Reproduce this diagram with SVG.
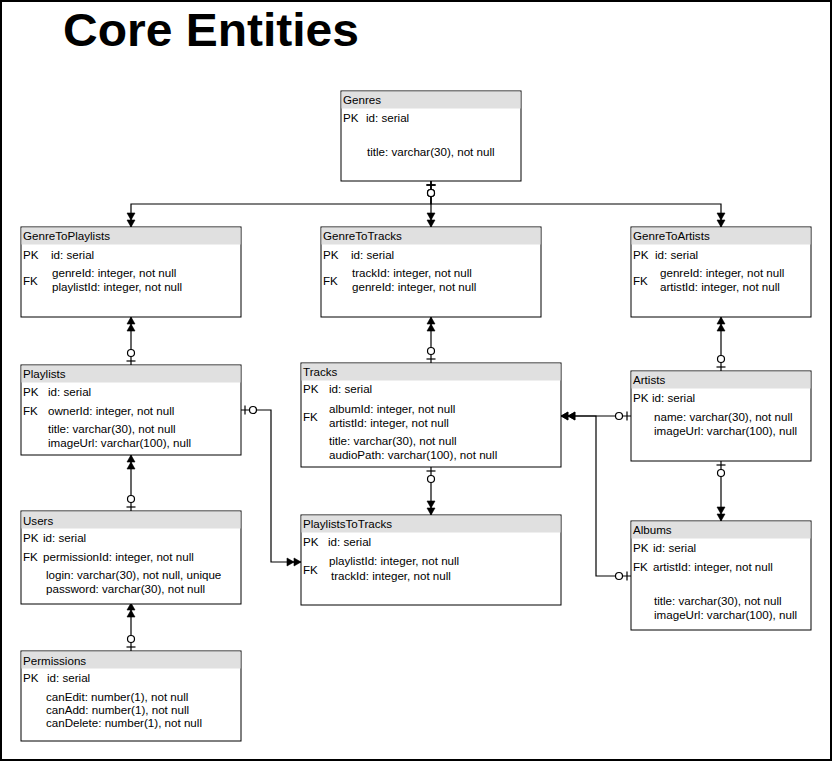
<svg xmlns="http://www.w3.org/2000/svg" width="834" height="763" viewBox="0 0 834 763">
<style>
text{font-family:"Liberation Sans",Arial,Helvetica,sans-serif;font-size:11.6px;fill:#000}
.title{font-size:47px;font-weight:bold}
.box{fill:#fff;stroke:#000;stroke-width:1}
.hdr{fill:#e0e0e0;stroke:none}
.edge{fill:none;stroke:#000;stroke-width:1.2}
</style>
<defs>
<marker id="many" markerUnits="userSpaceOnUse" markerWidth="20" markerHeight="12" viewBox="-16 -6 20 12" refX="0" refY="0" orient="auto" overflow="visible">
<path d="M0,0 L-7,-4 L-7,4 Z M-7,0 L-14,-4 L-14,4 Z" fill="#000" stroke="#000" stroke-width="0.6"/>
</marker>
<marker id="zeroOne" markerUnits="userSpaceOnUse" markerWidth="20" markerHeight="12" viewBox="0 -6 20 12" refX="0" refY="0" orient="auto" overflow="visible">
<path d="M4,-4.5 L4,4.5" stroke="#000" stroke-width="1.2"/>
<circle cx="12" cy="0" r="3.5" fill="#fff" stroke="#000" stroke-width="1.2"/>
</marker>
</defs>
<rect x="1" y="1" width="830" height="759" fill="#fff" stroke="#000" stroke-width="2"/>
<text class="title" x="63" y="46" textLength="296" lengthAdjust="spacingAndGlyphs">Core Entities</text>

<g id="connectors">
<path class="edge" d="M431,181 L431,204 L131,204 L131,227" marker-start="url(#zeroOne)" marker-end="url(#many)"/>
<path class="edge" d="M431,181 L431,227" marker-start="url(#zeroOne)" marker-end="url(#many)"/>
<path class="edge" d="M431,181 L431,204 L721,204 L721,227" marker-start="url(#zeroOne)" marker-end="url(#many)"/>
<path class="edge" d="M131,365 L131,317" marker-start="url(#zeroOne)" marker-end="url(#many)"/>
<path class="edge" d="M431,363 L431,317" marker-start="url(#zeroOne)" marker-end="url(#many)"/>
<path class="edge" d="M721,371 L721,317" marker-start="url(#zeroOne)" marker-end="url(#many)"/>
<path class="edge" d="M131,511 L131,455" marker-start="url(#zeroOne)" marker-end="url(#many)"/>
<path class="edge" d="M131,651 L131,603" marker-start="url(#zeroOne)" marker-end="url(#many)"/>
<path class="edge" d="M241,410 L271,410 L271,562 L301,562" marker-start="url(#zeroOne)" marker-end="url(#many)"/>
<path class="edge" d="M431,467 L431,515" marker-start="url(#zeroOne)" marker-end="url(#many)"/>
<path class="edge" d="M631,416 L561,416" marker-start="url(#zeroOne)" marker-end="url(#many)"/>
<path class="edge" d="M631,576 L596,576 L596,416 L561,416" marker-start="url(#zeroOne)" marker-end="url(#many)"/>
<path class="edge" d="M721,461 L721,521" marker-start="url(#zeroOne)" marker-end="url(#many)"/>
</g>

<g id="Genres">
<rect class="box" x="341" y="91" width="180" height="90"/>
<rect class="hdr" x="341.5" y="91.5" width="179" height="17"/>
<text x="343" y="104">Genres</text>
<text x="343" y="122">PK</text><text x="366" y="122">id: serial</text>
<text x="367" y="156">title: varchar(30), not null</text>
</g>

<g id="GenreToPlaylists">
<rect class="box" x="21" y="227" width="220" height="90"/>
<rect class="hdr" x="21.5" y="227.5" width="219" height="17"/>
<text x="23" y="240">GenreToPlaylists</text>
<text x="23" y="259">PK</text><text x="51" y="259">id: serial</text>
<text x="23" y="285">FK</text>
<text x="52" y="277">genreId: integer, not null</text>
<text x="52" y="291">playlistId: integer, not null</text>
</g>

<g id="GenreToTracks">
<rect class="box" x="321" y="227" width="220" height="90"/>
<rect class="hdr" x="321.5" y="227.5" width="219" height="17"/>
<text x="323" y="240">GenreToTracks</text>
<text x="323" y="259">PK</text><text x="351" y="259">id: serial</text>
<text x="323" y="285">FK</text>
<text x="352" y="277">trackId: integer, not null</text>
<text x="352" y="291">genreId: integer, not null</text>
</g>

<g id="GenreToArtists">
<rect class="box" x="631" y="227" width="180" height="90"/>
<rect class="hdr" x="631.5" y="227.5" width="179" height="17"/>
<text x="633" y="240">GenreToArtists</text>
<text x="633" y="259">PK</text><text x="655" y="259">id: serial</text>
<text x="633" y="285">FK</text>
<text x="660" y="277">genreId: integer, not null</text>
<text x="660" y="291">artistId: integer, not null</text>
</g>

<g id="Playlists">
<rect class="box" x="21" y="365" width="220" height="90"/>
<rect class="hdr" x="21.5" y="365.5" width="219" height="17"/>
<text x="23" y="378">Playlists</text>
<text x="23" y="396">PK</text><text x="48" y="396">id: serial</text>
<text x="23" y="415">FK</text><text x="48" y="415">ownerId: integer, not null</text>
<text x="48" y="433">title: varchar(30), not null</text>
<text x="48" y="447">imageUrl: varchar(100), null</text>
</g>

<g id="Tracks">
<rect class="box" x="301" y="363" width="260" height="104"/>
<rect class="hdr" x="301.5" y="363.5" width="259" height="17"/>
<text x="303" y="376">Tracks</text>
<text x="303" y="393">PK</text><text x="329" y="393">id: serial</text>
<text x="303" y="421">FK</text>
<text x="329" y="413">albumId: integer, not null</text>
<text x="329" y="427">artistId: integer, not null</text>
<text x="329" y="445">title: varchar(30), not null</text>
<text x="329" y="459">audioPath: varchar(100), not null</text>
</g>

<g id="Artists">
<rect class="box" x="631" y="371" width="180" height="90"/>
<rect class="hdr" x="631.5" y="371.5" width="179" height="17"/>
<text x="633" y="384">Artists</text>
<text x="633" y="402">PK</text><text x="652" y="402">id: serial</text>
<text x="654" y="421">name: varchar(30), not null</text>
<text x="654" y="435">imageUrl: varchar(100), null</text>
</g>

<g id="Users">
<rect class="box" x="21" y="511" width="220" height="93"/>
<rect class="hdr" x="21.5" y="511.5" width="219" height="17"/>
<text x="23" y="525">Users</text>
<text x="23" y="542">PK</text><text x="43" y="542">id: serial</text>
<text x="23" y="561">FK</text><text x="43" y="561">permissionId: integer, not null</text>
<text x="46" y="579">login: varchar(30), not null, unique</text>
<text x="46" y="593">password: varchar(30), not null</text>
</g>

<g id="PlaylistsToTracks">
<rect class="box" x="301" y="515" width="260" height="90"/>
<rect class="hdr" x="301.5" y="515.5" width="259" height="17"/>
<text x="303" y="528">PlaylistsToTracks</text>
<text x="303" y="546">PK</text><text x="328" y="546">id: serial</text>
<text x="303" y="574">FK</text>
<text x="329" y="565">playlistId: integer, not null</text>
<text x="331" y="580">trackId: integer, not null</text>
</g>

<g id="Albums">
<rect class="box" x="631" y="521" width="180" height="109"/>
<rect class="hdr" x="631.5" y="521.5" width="179" height="17"/>
<text x="633" y="534">Albums</text>
<text x="633" y="552">PK</text><text x="653" y="552">id: serial</text>
<text x="633" y="571">FK</text><text x="653" y="571">artistId: integer, not null</text>
<text x="654" y="605">title: varchar(30), not null</text>
<text x="654" y="619">imageUrl: varchar(100), null</text>
</g>

<g id="Permissions">
<rect class="box" x="21" y="651" width="220" height="90"/>
<rect class="hdr" x="21.5" y="651.5" width="219" height="17"/>
<text x="23" y="665">Permissions</text>
<text x="23" y="682">PK</text><text x="47" y="682">id: serial</text>
<text x="46" y="701">canEdit: number(1), not null</text>
<text x="46" y="714">canAdd: number(1), not null</text>
<text x="46" y="727">canDelete: number(1), not null</text>
</g>
</svg>
